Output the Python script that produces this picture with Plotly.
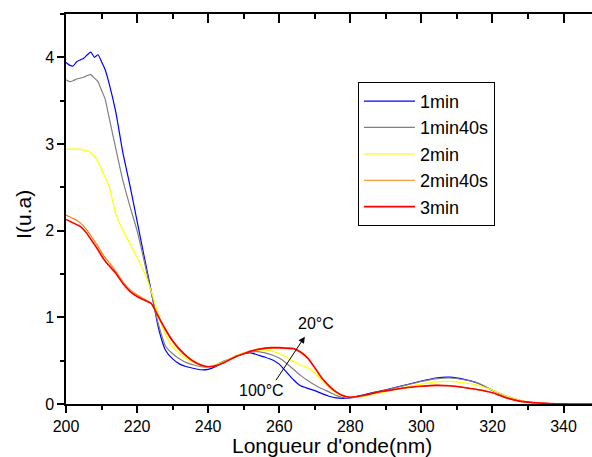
import plotly.graph_objects as go

# Wavelength grid (nm)
wavelength = [200, 201, 202, 203, 204, 205, 206, 207, 208, 209, 210, 211, 212,
              214, 216, 218, 220, 222, 224, 226, 228, 230, 232, 234, 236, 238, 240,
              242, 244, 246, 248, 250, 252, 254, 256, 258, 260, 262, 264, 266, 268,
              270, 272, 274, 276, 278, 280,
              284, 288, 292, 296, 300, 304, 308, 312, 316, 320, 324, 328, 332, 336,
              340, 344, 348]

i_1min = [3.94, 3.91, 3.90, 3.95, 3.97, 3.99, 4.03, 4.06, 4.00, 4.03, 3.95, 3.86, 3.72,
          3.37, 2.90, 2.52, 2.11, 1.70, 1.30, 0.88, 0.62, 0.52, 0.46, 0.43, 0.41, 0.395, 0.40,
          0.43, 0.48, 0.52, 0.55, 0.58, 0.59, 0.565, 0.54, 0.51, 0.46, 0.37, 0.28, 0.21, 0.18,
          0.155, 0.12, 0.09, 0.07, 0.065, 0.07,
          0.11, 0.145, 0.185, 0.225, 0.265, 0.30, 0.31, 0.285, 0.24, 0.155, 0.085, 0.035, 0.012, 0.004,
          0.0, 0.0, 0.0]

i_1min40s = [3.74, 3.72, 3.73, 3.75, 3.76, 3.77, 3.79, 3.80, 3.76, 3.72, 3.62, 3.52, 3.33,
             2.95, 2.58, 2.28, 2.00, 1.65, 1.28, 0.92, 0.67, 0.58, 0.52, 0.475, 0.45, 0.43, 0.43,
             0.45, 0.49, 0.52, 0.56, 0.59, 0.60, 0.605, 0.59, 0.565, 0.53, 0.47, 0.40, 0.33, 0.27,
             0.22, 0.175, 0.14, 0.10, 0.075, 0.072,
             0.10, 0.14, 0.18, 0.22, 0.26, 0.29, 0.30, 0.28, 0.24, 0.16, 0.09, 0.04, 0.012, 0.004,
             0.0, 0.0, 0.0]

i_2min = [2.94, 2.94, 2.94, 2.94, 2.94, 2.93, 2.92, 2.90, 2.86, 2.79, 2.71, 2.62, 2.53,
          2.20, 2.00, 1.85, 1.69, 1.52, 1.30, 1.03, 0.80, 0.66, 0.58, 0.52, 0.48, 0.45, 0.435,
          0.45, 0.48, 0.52, 0.56, 0.59, 0.61, 0.62, 0.625, 0.61, 0.58, 0.54, 0.49, 0.45, 0.42,
          0.36, 0.27, 0.19, 0.13, 0.09, 0.075,
          0.09, 0.125, 0.16, 0.20, 0.23, 0.255, 0.26, 0.245, 0.215, 0.16, 0.09, 0.04, 0.012, 0.004,
          0.0, 0.0, 0.0]

i_2min40s = [2.18, 2.16, 2.14, 2.12, 2.09, 2.05, 2.00, 1.94, 1.88, 1.82, 1.75, 1.69, 1.64,
             1.53, 1.41, 1.32, 1.26, 1.21, 1.16, 1.00, 0.85, 0.72, 0.62, 0.545, 0.485, 0.445, 0.43,
             0.44, 0.47, 0.51, 0.55, 0.58, 0.61, 0.63, 0.64, 0.645, 0.645, 0.64, 0.635, 0.595, 0.525,
             0.415, 0.295, 0.205, 0.138, 0.094, 0.077,
             0.10, 0.14, 0.165, 0.19, 0.205, 0.215, 0.21, 0.19, 0.165, 0.13, 0.07, 0.03, 0.015, 0.005,
             0.001, 0.0, 0.0]

i_3min = [2.13, 2.11, 2.09, 2.07, 2.05, 2.01, 1.96, 1.90, 1.84, 1.78, 1.71, 1.65, 1.60,
          1.51, 1.39, 1.30, 1.24, 1.20, 1.16, 1.01, 0.86, 0.73, 0.63, 0.55, 0.49, 0.45, 0.43,
          0.44, 0.47, 0.51, 0.55, 0.58, 0.61, 0.63, 0.645, 0.65, 0.65, 0.645, 0.64, 0.60, 0.53,
          0.42, 0.30, 0.21, 0.14, 0.095, 0.078,
          0.10, 0.14, 0.165, 0.19, 0.205, 0.215, 0.21, 0.19, 0.165, 0.13, 0.07, 0.03, 0.015, 0.005,
          0.001, 0.0, 0.0]

series_names = ["1min", "1min40s", "2min", "2min40s", "3min"]
series_values = [i_1min, i_1min40s, i_2min, i_2min40s, i_3min]
series_colors = ["#0000FF", "#808080", "#FFFF00", "#FF8000", "#FF0000"]
series_widths = [1.2, 1.2, 1.2, 1.2, 1.6]

x_ticks = [200, 220, 240, 260, 280, 300, 320, 340]
y_ticks = [0, 1, 2, 3, 4]

FONT = "Liberation Sans, Arial, sans-serif"

fig = go.Figure()
for name, vals, col, w in zip(series_names, series_values, series_colors, series_widths):
    fig.add_trace(go.Scatter(x=wavelength, y=vals, mode="lines", name=name,
                             line=dict(color=col, width=w, shape="spline", smoothing=0.5)))

# helper trace for the top (mirror) axis
fig.add_trace(go.Scatter(x=[None], y=[None], xaxis="x2", showlegend=False, hoverinfo="skip"))

axis_common = dict(showline=True, linecolor="black", linewidth=1.5, showgrid=False,
                   zeroline=False, tickcolor="black", tickwidth=1.5)

fig.update_layout(
    width=592, height=457,
    margin=dict(l=66, r=0, t=14, b=53),
    paper_bgcolor="white", plot_bgcolor="white",
    font=dict(family=FONT, color="black", size=16),
    xaxis=dict(range=[200, 348], tickvals=x_ticks, ticktext=[str(v) for v in x_ticks],
               ticks="outside", ticklen=7,
               minor=dict(dtick=10, tick0=200, ticks="outside", ticklen=4,
                          tickwidth=1.5, tickcolor="black"),
               tickfont=dict(size=16, family=FONT, color="black"), **axis_common),
    xaxis2=dict(range=[200, 348], overlaying="x", side="top", anchor="y",
                tickvals=x_ticks, showticklabels=False, ticks="inside", ticklen=9,
                minor=dict(dtick=10, tick0=200, ticks="inside", ticklen=5,
                           tickwidth=1.5, tickcolor="black"),
                **axis_common),
    yaxis=dict(range=[0, 4.5], tickvals=y_ticks, ticktext=[str(v) for v in y_ticks],
               ticks="outside", ticklen=7,
               minor=dict(dtick=0.5, tick0=0, ticks="outside", ticklen=4,
                          tickwidth=1.5, tickcolor="black"),
               tickfont=dict(size=16, family=FONT, color="black"), **axis_common),
    legend=dict(x=0.555, y=0.826, xanchor="left", yanchor="top",
                bgcolor="white", bordercolor="black", borderwidth=1,
                font=dict(size=18, family=FONT, color="black"),
                itemwidth=51, tracegroupgap=0),
    showlegend=True,
)

fig.add_annotation(xref="paper", yref="paper", x=0.5057, y=-0.1056,
                   text="Longueur d'onde(nm)", showarrow=False,
                   font=dict(size=21, family=FONT, color="black"),
                   xanchor="center", yanchor="middle")
fig.add_annotation(xref="paper", yref="paper", x=-0.0798, y=0.485,
                   text="I(u.a)", textangle=-90, showarrow=False,
                   font=dict(size=21, family=FONT, color="black"),
                   xanchor="center", yanchor="middle")

# temperature arrow
fig.add_annotation(xref="x", yref="y", axref="x", ayref="y",
                   x=267.2, y=0.777, ax=258.8, ay=0.257, text="",
                   showarrow=True, arrowhead=2, arrowsize=1.3, arrowwidth=1,
                   arrowcolor="black")
fig.add_annotation(xref="x", yref="y", x=270.3, y=0.927, text="20°C", showarrow=False,
                   font=dict(size=16, family=FONT, color="black"))
fig.add_annotation(xref="x", yref="y", x=255.1, y=0.153, text="100°C", showarrow=False,
                   font=dict(size=16, family=FONT, color="black"))

fig.write_html("out.html", config={"displayModeBar": False},
               post_script="document.body.style.margin='0';document.body.style.overflow='hidden';")
